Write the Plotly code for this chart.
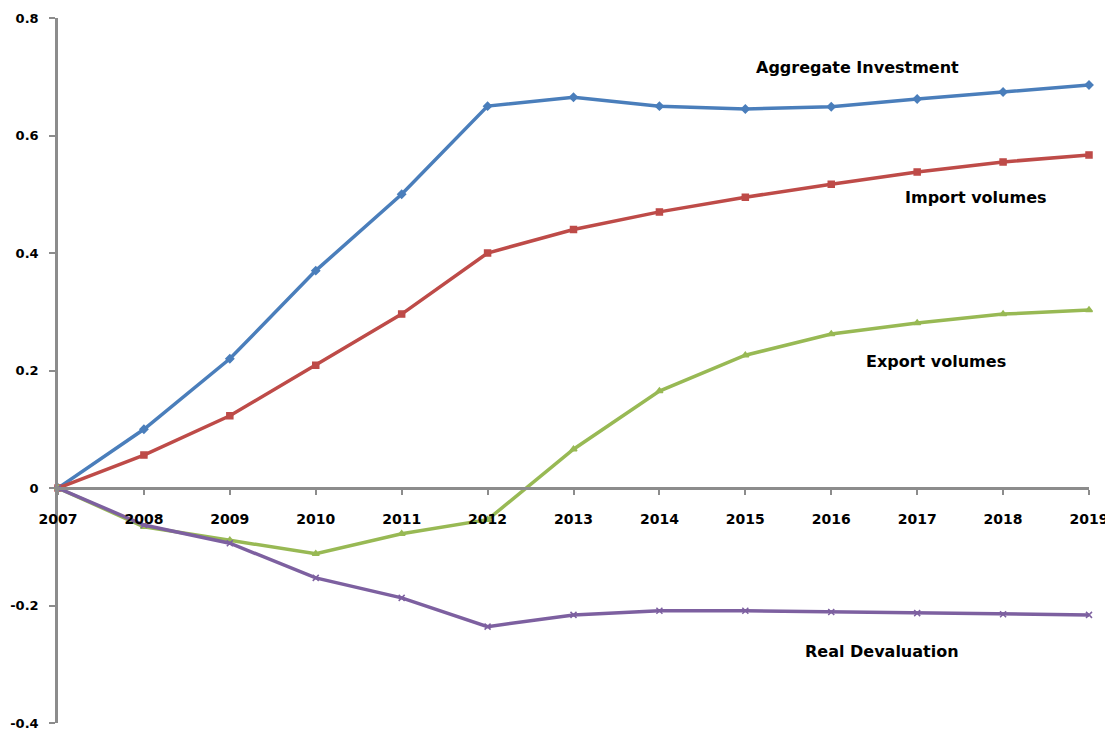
import plotly.graph_objects as go

years = list(range(2007, 2020))
aggregate_investment = [0, 0.10, 0.22, 0.37, 0.50, 0.65, 0.665, 0.65, 0.645, 0.649, 0.662, 0.674, 0.686]
import_volumes = [0, 0.056, 0.123, 0.209, 0.296, 0.40, 0.44, 0.47, 0.495, 0.517, 0.538, 0.555, 0.567]
export_volumes = [0, -0.066, -0.089, -0.112, -0.078, -0.054, 0.066, 0.165, 0.226, 0.262, 0.281, 0.296, 0.303]
real_devaluation = [0, -0.063, -0.094, -0.153, -0.187, -0.236, -0.216, -0.209, -0.209, -0.211, -0.213, -0.215, -0.216]

y_ticks = [-0.4, -0.2, 0, 0.2, 0.4, 0.6, 0.8]
y_tick_labels = ["-0.4", "-0.2", "0", "0.2", "0.4", "0.6", "0.8"]

series = [
    ("Aggregate Investment", aggregate_investment, "#4A7EBB", "diamond"),
    ("Import volumes", import_volumes, "#BE4B48", "square"),
    ("Export volumes", export_volumes, "#98B954", "triangle-up"),
    ("Real Devaluation", real_devaluation, "#7D60A0", "x-thin"),
]

labels = [
    ("Aggregate Investment", 2016.31, 0.715),
    ("Import volumes", 2017.69, 0.494),
    ("Export volumes", 2017.22, 0.216),
    ("Real Devaluation", 2016.59, -0.279),
]

FONT = "DejaVu Sans, Liberation Sans, Arial"

fig = go.Figure()
for name, vals, color, sym in series:
    fig.add_trace(go.Scatter(
        x=years, y=vals, name=name, mode="lines+markers",
        line=dict(color=color, width=3.5),
        marker=dict(symbol=sym, size=6, color=color, line=dict(color=color, width=1.5)),
        cliponaxis=False,
    ))

for text, x, y in labels:
    fig.add_annotation(x=x, y=y, text=f"<b>{text}</b>", showarrow=False,
                       font=dict(family=FONT, size=16, color="black"))

fig.update_layout(
    width=1105, height=724,
    margin=dict(l=50, r=24, t=10, b=9),
    paper_bgcolor="white", plot_bgcolor="white",
    showlegend=False,
    font=dict(family=FONT, size=14, color="black"),
)
fig.update_xaxes(
    range=[2007, 2019], tickvals=years, ticktext=[f"<b>{y}</b>" for y in years],
    showline=True, linecolor="#8C8C8C", linewidth=2.5,
    ticks="outside", ticklen=5, tickwidth=1.5, tickcolor="#8C8C8C",
    showgrid=False, zeroline=False, automargin=False,
    anchor="free", position=1/3, ticklabelstandoff=12,
    tickfont=dict(family=FONT, size=14),
)
fig.update_yaxes(
    range=[-0.4, 0.8], tickvals=y_ticks, ticktext=[f"<b>{t}</b>" for t in y_tick_labels],
    showline=True, linecolor="#8C8C8C", linewidth=2.5,
    ticks="outside", ticklen=6, tickwidth=1.5, tickcolor="#8C8C8C",
    showgrid=False, zeroline=False, ticklabelstandoff=8, automargin=False,
    tickfont=dict(family=FONT, size=13),
)
fig.write_html("out.html")
